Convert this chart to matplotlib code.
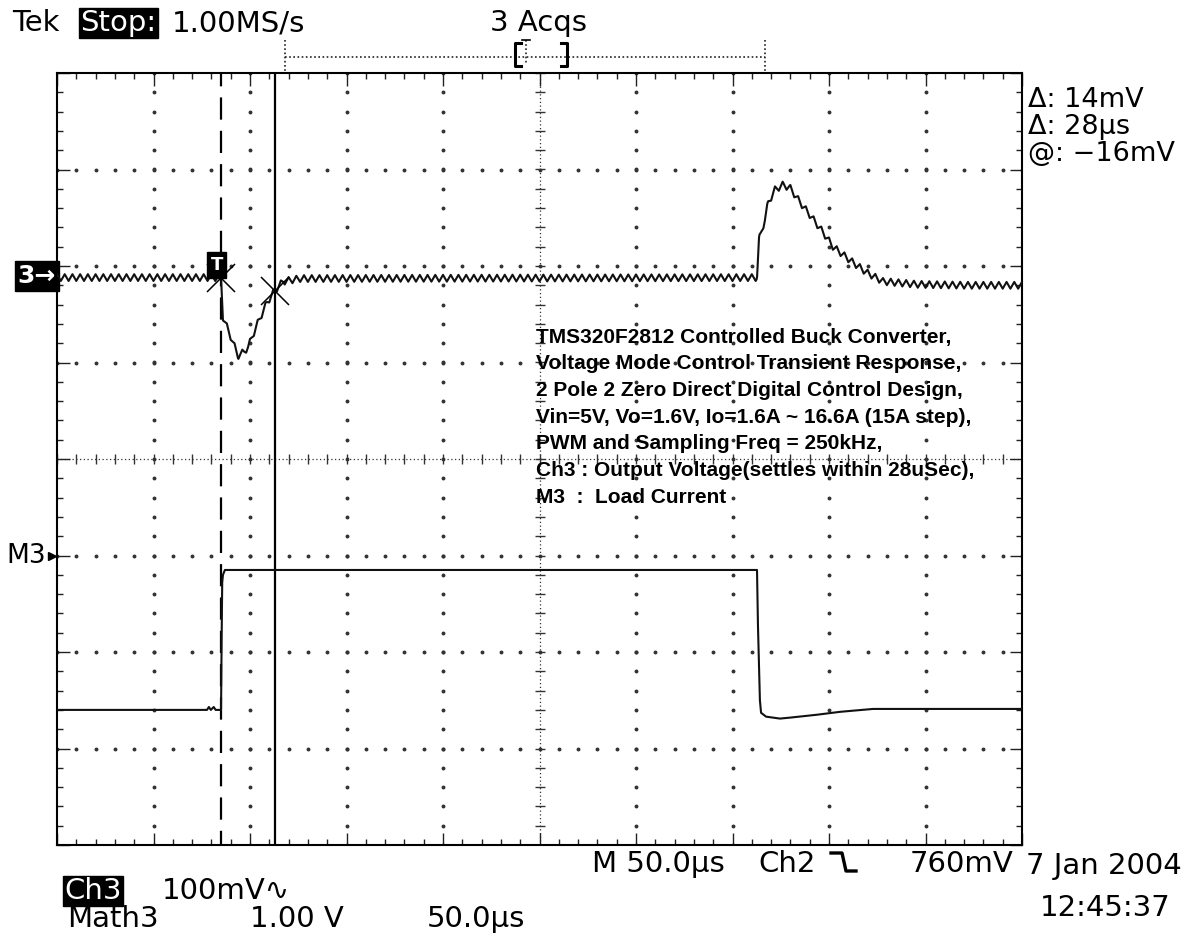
import numpy as np
import matplotlib.pyplot as plt
from matplotlib.lines import Line2D
import matplotlib.transforms as mtransforms

plt.rcParams['font.family'] = ['DejaVu Sans']

W, H = 1203, 934

# scope settings
US_PER_DIV = 50.0
CH3_MV_PER_DIV = 100.0
M3_V_PER_DIV = 1.0
CH3_POS_DIV = 1.9      # "3->" ground marker
M3_POS_DIV = -1.0      # "M3>" ground marker
PWM_PERIOD_US = 4.0    # 250 kHz switching ripple

TRIG_US = 85.0
CURSOR_US = [85.0, 113.0]
CURSOR_MV = [-2.0, -16.0]

# Ch3 output voltage, slow part (us, mV)
ch3_us = [0, 85.0, 85.5, 86.0, 89.6, 93.8, 96.9, 99.0, 103.6, 108.8, 113.0, 117.1,
          125.9, 362.7, 363.7, 366.8, 368.4, 372.0, 376.1, 379.8, 385.0, 390.1,
          396.9, 402.1, 410.9, 419.7, 428.0, 445.6, 471.5, 500]
ch3_mv = [-2, -2, -22, -43, -61, -83, -79, -74, -51, -28, -15, -6,
          -3, -2, 37, 58, 75, 89, 94, 91, 76, 63,
          45, 30, 16, 3, -6, -9, -10, -10]
# one switching period of ripple (peak, trough), mV
ripple_mv = [3.5, -3.5]

# Math3 load current (us, V)
m3_us = [0, 77.7, 78.7, 79.7, 81.2, 82.2, 85.0, 85.3, 85.6, 86.0, 87.0,
         362.7, 363.2, 364.2, 364.8, 367.4, 374.6, 379.8, 393.8, 405.7, 422.8, 500]
m3_v = [-1.60, -1.60, -1.57, -1.60, -1.57, -1.60, -1.60, -0.87, -0.28, -0.20, -0.15,
        -0.15, -0.73, -1.50, -1.63, -1.67, -1.69, -1.68, -1.65, -1.62, -1.59, -1.59]

readouts = ['\u0394: 14mV', '\u0394: 28\u00b5s', '@: \u221216mV']


def fx(px):
    return px / W


def fy(py):
    return 1 - py / H


fig = plt.figure(figsize=(W / 100, H / 100), dpi=100)
ax = fig.add_axes([fx(57), fy(845), (1022 - 57) / W, (845 - 73) / H])
ax.set_xlim(0, 10 * US_PER_DIV)
ax.set_ylim(-4, 4)

for s in ax.spines.values():
    s.set_linewidth(1.5)
ax.set_xticks(np.arange(0, 501, US_PER_DIV))
ax.set_xticks(np.arange(0, 501, US_PER_DIV / 5), minor=True)
ax.set_yticks(np.arange(-4, 4.01, 1))
ax.set_yticks(np.arange(-4, 4.01, 0.2), minor=True)
ax.tick_params(which='both', direction='in', top=True, right=True,
               labelbottom=False, labelleft=False, width=1, color='#222')
ax.tick_params(which='major', length=9)
ax.tick_params(which='minor', length=4)

# dotted graticule
xs_minor = np.arange(0, 501, US_PER_DIV / 5)
ys_minor = np.arange(-4, 4.01, 0.2)
gx = [50, 100, 150, 200, 300, 350, 400, 450]
gy = [-3, -2, -1, 1, 2, 3]
X, Y = np.meshgrid(gx, ys_minor)
ax.plot(X.ravel(), Y.ravel(), 'o', ms=1.8, color='#333', zorder=1)
X, Y = np.meshgrid(xs_minor, gy)
ax.plot(X.ravel(), Y.ravel(), 'o', ms=1.8, color='#333', zorder=1)

# centre crosshair with minor ticks
ax.plot([250, 250], [-4, 4], ls=(0, (1, 2)), lw=0.9, color='#333', zorder=1)
ax.plot([0, 500], [0, 0], ls=(0, (1, 2)), lw=0.9, color='#333', zorder=1)
ax.plot(xs_minor, np.zeros_like(xs_minor), '|', ms=7, mew=1, color='#333', zorder=1)
ax.plot(np.full_like(ys_minor, 250), ys_minor, '_', ms=7, mew=1, color='#333', zorder=1)

# cursors
ax.plot([CURSOR_US[0]] * 2, [4, -4], ls=(4, (10, 5)), lw=1.6, color='k', zorder=3)
ax.plot([CURSOR_US[1]] * 2, [4, -4], lw=1.6, color='k', zorder=3)

# traces
t = np.arange(0, 500.001, 0.25)
slow = np.interp(t, ch3_us, ch3_mv)
ripple = np.interp(t % PWM_PERIOD_US, [0, PWM_PERIOD_US / 2, PWM_PERIOD_US],
                   [ripple_mv[0], ripple_mv[1], ripple_mv[0]])
ch3 = CH3_POS_DIV + (slow + ripple) / CH3_MV_PER_DIV
ax.plot(t, ch3, color='#111', lw=1.5, zorder=4)
ax.plot(m3_us, M3_POS_DIV + np.array(m3_v) / M3_V_PER_DIV, color='#111', lw=1.5, zorder=4)

# cursor crossings on Ch3
ax.plot(CURSOR_US, CH3_POS_DIV + np.array(CURSOR_MV) / CH3_MV_PER_DIV, 'x',
        ms=20, mew=1.1, color='k', zorder=5)
ax.text(TRIG_US - 2.3, CH3_POS_DIV + 0.11, 'T', color='white', fontsize=13,
        fontweight='bold', ha='center', va='center', zorder=6,
        bbox=dict(boxstyle='square,pad=0.2', fc='black', ec='black'))

# channel ground markers
left = mtransforms.blended_transform_factory(ax.transAxes, ax.transData)
ax.text(-0.001, CH3_POS_DIV, '3\u2192', transform=left, ha='right', va='center',
        color='white', fontsize=18, fontweight='bold',
        bbox=dict(boxstyle='square,pad=0.12', fc='black', ec='black'))
ax.text(-0.011, M3_POS_DIV, 'M3', transform=left, ha='right', va='center',
        color='black', fontsize=19)
ax.plot([-2.6], [M3_POS_DIV], '>', ms=6, color='black', clip_on=False)

# annotation block
notes = ['TMS320F2812 Controlled Buck Converter,',
         'Voltage Mode Control Transient Response,',
         '2 Pole 2 Zero Direct Digital Control Design,',
         'Vin=5V, Vo=1.6V, Io=1.6A ~ 16.6A (15A step),',
         'PWM and Sampling Freq = 250kHz,',
         'Ch3 : Output Voltage(settles within 28uSec),',
         'M3  :  Load Current']
for i, line in enumerate(notes):
    fig.text(fx(536), fy(337 + 26.7 * i), line, family='Liberation Sans',
             fontweight='bold', fontsize=15, ha='left', va='center')

# header
fs = 21
fig.text(fx(12), fy(31), 'Tek', fontsize=fs, va='baseline')
fig.text(fx(80), fy(31), 'Stop:', fontsize=fs, va='baseline', color='white',
         bbox=dict(boxstyle='square,pad=0.05', fc='black', ec='black'))
fig.text(fx(172), fy(31), '1.00MS/s', fontsize=fs, va='baseline')
fig.text(fx(490), fy(31), '3 Acqs', fontsize=fs, va='baseline')

# record view bracket
dot = dict(ls=(0, (1, 1.5)), lw=1.2, color='#222')
fig.add_artist(Line2D([fx(285), fx(765)], [fy(57)] * 2, **dot))
fig.add_artist(Line2D([fx(285)] * 2, [fy(40), fy(72)], **dot))
fig.add_artist(Line2D([fx(765)] * 2, [fy(40), fy(72)], **dot))
fig.add_artist(Line2D([fx(521), fx(515), fx(515), fx(521)],
                      [fy(43), fy(43), fy(66), fy(66)], lw=2.2, color='k'))
fig.add_artist(Line2D([fx(561), fx(567), fx(567), fx(561)],
                      [fy(43), fy(43), fy(66), fy(66)], lw=2.2, color='k'))
fig.add_artist(Line2D([fx(526)] * 2, [fy(40), fy(64)], **dot))
fig.add_artist(Line2D([fx(522), fx(530)], [fy(40)] * 2, lw=1.2, color='k'))

# cursor readouts
for i, r in enumerate(readouts):
    fig.text(fx(1028), fy(107 + 27 * i), r, fontsize=19.5, va='baseline')

# bottom status
fig.text(fx(592), fy(872), 'M 50.0\u00b5s', fontsize=fs, va='baseline')
fig.text(fx(758), fy(872), 'Ch2', fontsize=fs, va='baseline')
fig.add_artist(Line2D([fx(831), fx(842), fx(846), fx(856)],
                      [fy(853), fy(853), fy(871), fy(871)], lw=2.4, color='k'))
fig.text(fx(910), fy(872), '760mV', fontsize=fs, va='baseline')
fig.text(fx(1026), fy(874), '7 Jan 2004', fontsize=fs, va='baseline')
fig.text(fx(1040), fy(916), '12:45:37', fontsize=fs, va='baseline')

fig.text(fx(64), fy(899), 'Ch3', fontsize=fs, va='baseline', color='white',
         bbox=dict(boxstyle='square,pad=0.05', fc='black', ec='black'))
fig.text(fx(162), fy(899), '100mV\u223f', fontsize=fs, va='baseline')
fig.text(fx(67), fy(927), 'Math3', fontsize=fs, va='baseline')
fig.text(fx(250), fy(927), '1.00 V', fontsize=fs, va='baseline')
fig.text(fx(427), fy(927), '50.0\u00b5s', fontsize=fs, va='baseline')

fig.savefig('out.png', dpi=100, facecolor='white')
